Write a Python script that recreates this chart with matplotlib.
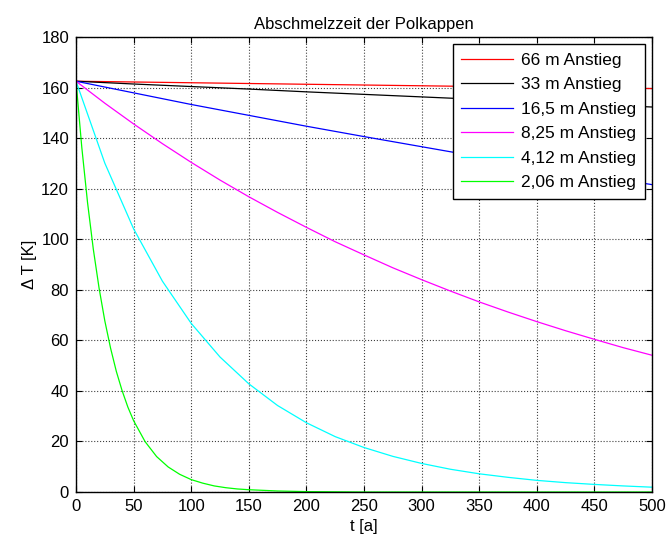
#! /usr/bin/env python3
# -*- coding: utf-8 -*-

## Abschmelzzeit der Polkappen - Nachbau des Diagramms
import matplotlib
matplotlib.use('Agg')
import matplotlib.pyplot as plt

plt.rcParams['font.family'] = ['Liberation Sans', 'DejaVu Sans']

## Werte
t_langsam = [0, 50, 100, 150, 200, 250, 300, 350, 400, 450, 500]
dT_66 = [162.5, 162.2, 161.9, 161.6, 161.3, 161.0, 160.7, 160.4, 160.2, 159.9, 159.6]
dT_33 = [162.5, 161.4, 160.4, 159.4, 158.3, 157.3, 156.3, 155.3, 154.3, 153.3, 152.3]
dT_16 = [162.5, 157.9, 153.3, 149.0, 144.7, 140.6, 136.6, 132.6, 128.9, 125.2, 121.6]

t_mittel = [0, 25, 50, 75, 100, 125, 150, 175, 200, 225, 250, 275, 300,
            325, 350, 375, 400, 425, 450, 475, 500]
dT_8 = [162.5, 153.8, 145.6, 137.8, 130.4, 123.4, 116.8, 110.6, 104.7, 99.0,
        93.8, 88.7, 84.0, 79.5, 75.2, 71.2, 67.4, 63.8, 60.4, 57.1, 54.1]
dT_4 = [162.5, 130.1, 104.1, 83.4, 66.7, 53.4, 42.8, 34.2, 27.4, 21.9,
        17.6, 14.1, 11.3, 9.0, 7.2, 5.8, 4.6, 3.7, 3.0, 2.4, 1.9]

t_schnell = [0, 5, 10, 15, 20, 25, 30, 35, 40, 45, 50, 60, 70, 80, 90, 100,
             110, 120, 130, 140, 150, 175, 200, 250, 500]
dT_2 = [162.5, 136.4, 114.5, 96.1, 80.7, 67.7, 56.9, 47.7, 40.1, 33.6, 28.2,
        19.9, 14.0, 9.9, 7.0, 4.9, 3.5, 2.4, 1.7, 1.2, 0.9, 0.4, 0.15, 0.0, 0.0]

labels = ['66 m Anstieg', '33 m Anstieg', '16,5 m Anstieg',
          '8,25 m Anstieg', '4,12 m Anstieg', '2,06 m Anstieg']

fig = plt.figure(figsize=(6.68, 5.4), dpi=100)
ax = fig.add_axes([0.1138, 0.0889, 0.8622, 0.8426])

lw = 0.9
ax.plot(t_langsam, dT_66, color='#ff0000', lw=lw, label=labels[0])
ax.plot(t_langsam, dT_33, color='#000000', lw=lw, label=labels[1])
ax.plot(t_langsam, dT_16, color='#0000ff', lw=lw, label=labels[2])
ax.plot(t_mittel, dT_8, color='#ff00ff', lw=lw, label=labels[3])
ax.plot(t_mittel, dT_4, color='#00ffff', lw=lw, label=labels[4])
ax.plot(t_schnell, dT_2, color='#00ff00', lw=lw, label=labels[5])

## Achsen im MATLAB-Stil
ax.set_xlim(0, 500)
ax.set_ylim(0, 180)
ax.set_xticks(range(0, 501, 50))
ax.set_yticks(range(0, 181, 20))
ax.tick_params(direction='in', top=True, right=True, labelsize=12, length=4,
               pad=5)
ax.grid(True, linestyle=':', color='0.25', linewidth=0.8)
for s in ax.spines.values():
    s.set_linewidth(1.0)

ax.set_title('Abschmelzzeit der Polkappen', fontsize=12, pad=6)
ax.set_xlabel('t [a]', fontsize=12, labelpad=4)
ax.set_ylabel('Δ T [K]', fontsize=12, labelpad=3)

leg = ax.legend(loc='upper right', bbox_to_anchor=(0.988, 0.985),
                borderaxespad=0, fancybox=False, framealpha=1,
                edgecolor='black', fontsize=12.5, handlelength=3.0,
                handletextpad=0.45, labelspacing=0.54, borderpad=0.5)
leg.get_frame().set_linewidth(1.0)

fig.savefig('out.png', dpi=100)
